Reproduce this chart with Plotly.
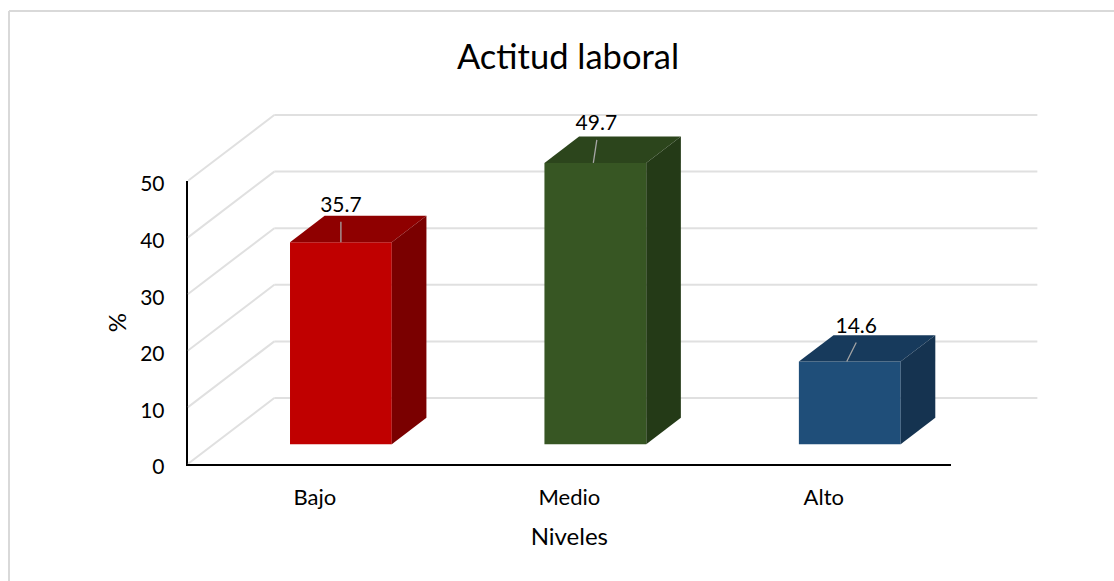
import plotly.graph_objects as go

categorias = ["Bajo", "Medio", "Alto"]
valores = [35.7, 49.7, 14.6]
y_ticks = [0, 10, 20, 30, 40, 50]

color_frente = ["#c00000", "#375623", "#1f4e79"]
color_techo = ["#8f0000", "#2c451c", "#173a5c"]
color_lado = ["#7a0000", "#243a17", "#153350"]

# label / leader-line offsets in screen pixels
etiqueta_dx = [0, 1, 6.5]
lider_top_dx = [0, 1.5, 6.5]
lider_base_dx = [0, -2, -3]
lider_top_dy = [20.5, 23, 19]
etiqueta_dy = [35.5, 38, 33.5]

W, H = 1114, 581
AX_L, AX_R, AX_T, AX_B = 187.7, 951.0, 181.0, 464.0
PX_X = (AX_R - AX_L) / 3
PX_Y = (AX_B - AX_T) / 50
DX = 86.6 / PX_X   # chart depth in x units
DY = 66.0 / PX_Y   # chart depth in y units
ANCHO = 0.4        # bar width
PROF = 0.4         # bar depth as share of chart depth
GAP = 0.3          # position of the bar inside the depth
PAD_PX = 4.0       # room above the back wall so its top line is not clipped

GRID = "#e0e0e0"
FONT = "Lato"
TXT = "#000000"

fig = go.Figure()

# Visible axes (front plane)
fig.add_trace(go.Scatter(x=[0, 1, 2], y=valores, mode="markers", marker=dict(opacity=0),
                         hoverinfo="skip", showlegend=False, xaxis="x", yaxis="y"))

# Front faces
x_front = [i + GAP * DX for i in range(3)]
fig.add_trace(go.Bar(x=x_front, y=valores, base=GAP * DY, width=ANCHO,
                     marker=dict(color=color_frente, line=dict(width=0)),
                     hoverinfo="skip", showlegend=False, xaxis="x2", yaxis="y2"))

# Top and side faces
for xc, v, ct, cl in zip(x_front, valores, color_techo, color_lado):
    x0, x1 = xc - ANCHO / 2, xc + ANCHO / 2
    y0, y1 = GAP * DY, GAP * DY + v
    ddx, ddy = PROF * DX, PROF * DY
    fig.add_trace(go.Scatter(
        x=[x0, x1, x1 + ddx, x0 + ddx, x0], y=[y1, y1, y1 + ddy, y1 + ddy, y1],
        mode="lines", fill="toself", fillcolor=ct, line=dict(width=0),
        hoverinfo="skip", showlegend=False, xaxis="x2", yaxis="y2"))
    fig.add_trace(go.Scatter(
        x=[x1, x1 + ddx, x1 + ddx, x1, x1], y=[y0, y0 + ddy, y1 + ddy, y1, y0],
        mode="lines", fill="toself", fillcolor=cl, line=dict(width=0),
        hoverinfo="skip", showlegend=False, xaxis="x2", yaxis="y2"))

# Leader lines and data labels
for xc, v, t_dx, b_dx, t_dy in zip(x_front, valores, lider_top_dx, lider_base_dx, lider_top_dy):
    y1 = GAP * DY + v
    fig.add_trace(go.Scatter(
        x=[xc + b_dx / PX_X, xc + t_dx / PX_X], y=[y1, y1 + t_dy / PX_Y],
        mode="lines", line=dict(color="#a6a6a6", width=1.3),
        hoverinfo="skip", showlegend=False, xaxis="x2", yaxis="y2"))
fig.add_trace(go.Scatter(
    x=[xc + d / PX_X for xc, d in zip(x_front, etiqueta_dx)],
    y=[GAP * DY + v + d / PX_Y for v, d in zip(valores, etiqueta_dy)],
    text=[f"{v:.1f}" for v in valores], mode="text", textposition="middle center",
    textfont=dict(family=FONT, size=21, color=TXT), cliponaxis=False,
    hoverinfo="skip", showlegend=False, xaxis="x2", yaxis="y2"))

# Gridlines on the side and back walls
formas = []
for t in y_ticks:
    formas.append(dict(type="line", xref="x2", yref="y2", layer="below",
                       x0=-0.5, y0=t, x1=-0.5 + DX, y1=t + DY,
                       line=dict(color=GRID, width=2)))
    formas.append(dict(type="line", xref="x2", yref="y2", layer="below",
                       x0=-0.5 + DX, y0=t + DY, x1=2.5 + DX, y1=t + DY,
                       line=dict(color=GRID, width=2)))
# Chart frame (left and top only)
MARCO = "#d9d9d9"
formas.append(dict(type="line", xref="paper", yref="paper", x0=9 / W, x1=9 / W, y0=0, y1=1 - 11 / H,
                   line=dict(color=MARCO, width=2)))
formas.append(dict(type="line", xref="paper", yref="paper", x0=9 / W, x1=1, y0=1 - 11 / H, y1=1 - 11 / H,
                   line=dict(color=MARCO, width=2)))

fig.update_layout(
    width=W, height=H, autosize=False, margin=dict(l=0, r=0, t=0, b=0, pad=0),
    paper_bgcolor="white", plot_bgcolor="rgba(0,0,0,0)", showlegend=False,
    font=dict(family=FONT, size=20, color=TXT),
    title=dict(text="Actitud laboral", x=568 / W, xanchor="center", y=1 - 57 / H, yanchor="middle",
               font=dict(family=FONT, size=34.5, color=TXT), automargin=False),
    shapes=formas,
    xaxis=dict(domain=[AX_L / W, AX_R / W], range=[-0.5, 2.5], anchor="y", automargin=False,
               tickmode="array", tickvals=[0, 1, 2], ticktext=categorias,
               showgrid=False, zeroline=False, showline=True, linecolor="#000000", linewidth=2,
               ticks="outside", ticklen=13, tickcolor="rgba(0,0,0,0)",
               tickfont=dict(family=FONT, size=22, color=TXT),
               title=dict(text="Niveles", standoff=19, font=dict(family=FONT, size=24, color=TXT))),
    yaxis=dict(domain=[1 - AX_B / H, 1 - AX_T / H], range=[0, 50], anchor="x", automargin=False,
               tickmode="array", tickvals=y_ticks,
               showgrid=False, zeroline=False, showline=True, linecolor="#000000", linewidth=2,
               ticks="outside", ticklen=17, tickcolor="rgba(0,0,0,0)",
               ticklabelshift=3,
               tickfont=dict(family=FONT, size=21, color=TXT),
               title=dict(text="%", standoff=7, font=dict(family=FONT, size=24, color=TXT))),
    xaxis2=dict(domain=[AX_L / W, (AX_R + 86.6) / W], range=[-0.5, 2.5 + DX], anchor="y2",
                visible=False, automargin=False),
    yaxis2=dict(domain=[1 - AX_B / H, 1 - (AX_T - 66.0 - PAD_PX) / H], range=[0, 50 + DY + PAD_PX / PX_Y],
                anchor="x2", visible=False, automargin=False),
)

fig.write_html("out.html", config=dict(displayModeBar=False),
               post_script="document.body.style.margin='0';")
